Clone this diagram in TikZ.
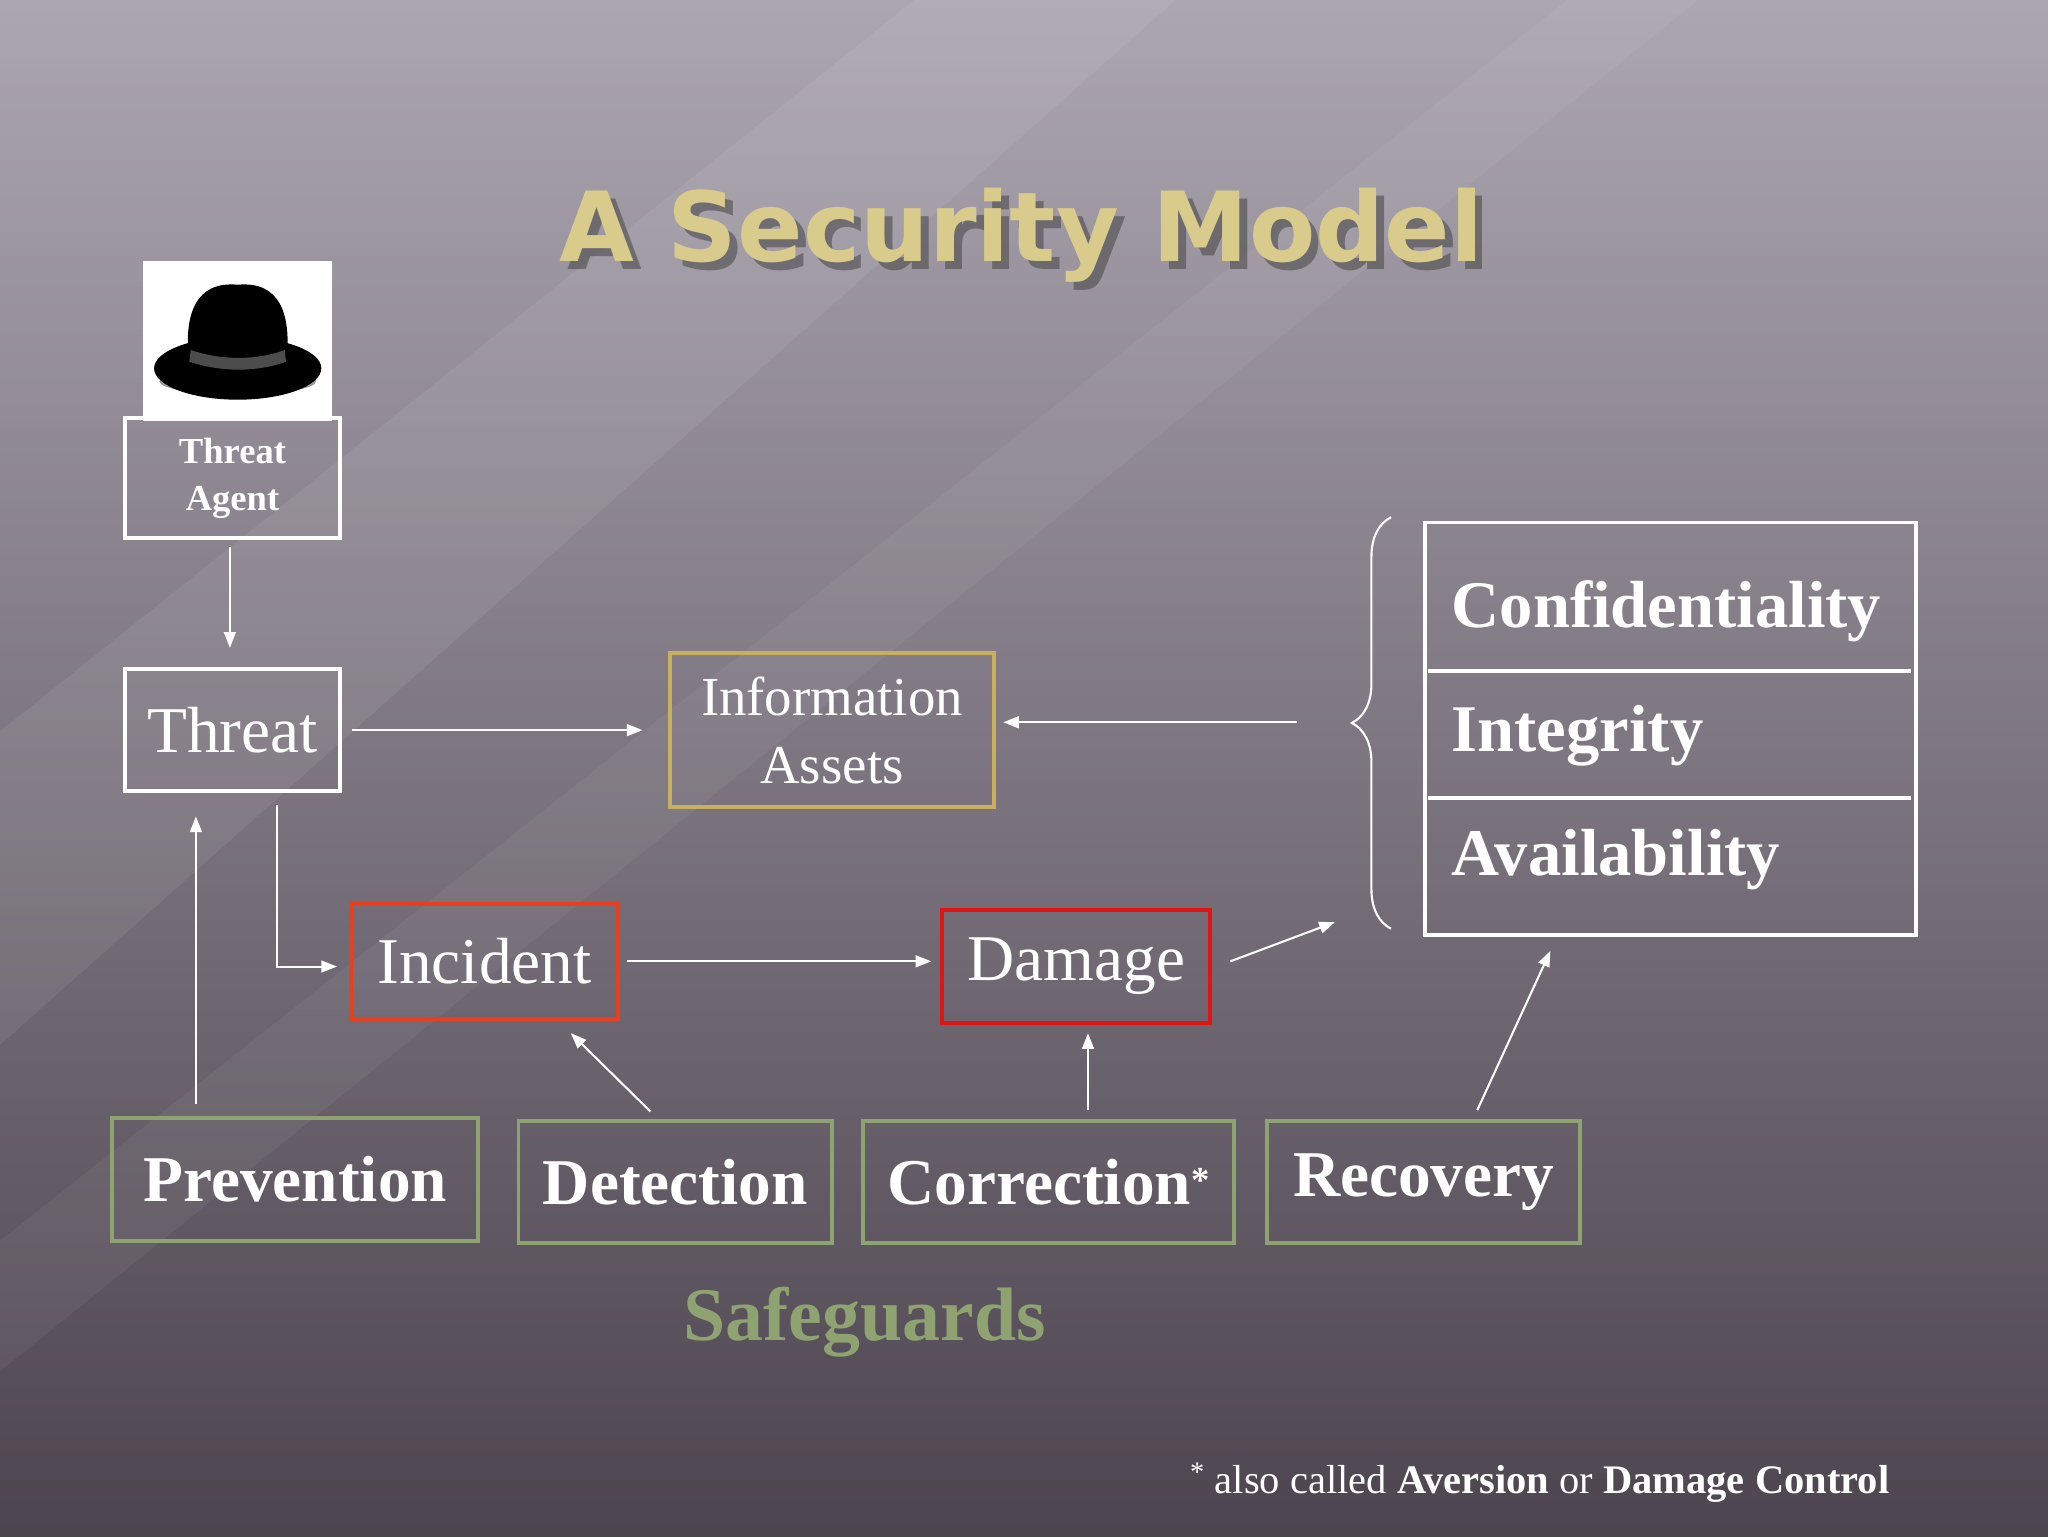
\documentclass[tikz,border=0pt]{standalone}
\usepackage{fontspec}
\setmainfont{Liberation Serif}
\newfontfamily\titlefont{DejaVu Sans}
\usetikzlibrary{arrows.meta,decorations.pathreplacing,shadows}
\definecolor{gold}{HTML}{C8B060}
\definecolor{titlec}{HTML}{D9CB8C}
\definecolor{grn}{HTML}{8FA272}
\definecolor{redA}{HTML}{E8401E}
\definecolor{redB}{HTML}{E01414}
\definecolor{bgL}{HTML}{9A93A0}
\definecolor{bgR}{HTML}{5E5460}
\begin{document}
\begin{tikzpicture}[x=1pt,y=-1pt,
 bx/.style={draw,line width=3pt,inner sep=0pt,text=white,align=center},
 arr/.style={draw=white,line width=1.6pt,-{Triangle[length=12pt,width=9pt]}},
 sg/.style={bx,draw=grn,font=\bfseries\fontsize{50}{54}\selectfont,minimum height=94pt}]
\useasboundingbox (0,0) rectangle (1568,1176);
\shade[left color=bgL, right color=bgR, shading angle=0] (0,0) rectangle (1568,1176);
\shade[top color=white, bottom color=black, opacity=0.18] (0,0) rectangle (1568,1176);
\fill[white,opacity=0.07] (0,560) -- (700,0) -- (900,0) -- (0,800) -- cycle;
\fill[white,opacity=0.05] (0,950) -- (1200,0) -- (1300,0) -- (0,1050) -- cycle;
% title
\node[opacity=0.6] (titleS) at (788,186) {\titlefont\bfseries\fontsize{74}{80}\selectfont\color{black!70}A Security Model};
\node (title) at (782,180) {\titlefont\bfseries\fontsize{74}{80}\selectfont\color{titlec}A Security Model};
% hat
\node[fill=white,minimum width=145pt,minimum height=122pt,inner sep=0] (hat) at (182,261) {};
\fill[black!40] (182,292) ellipse (60pt and 10pt);
\fill[black] (182,282) ellipse (64pt and 24pt);
\fill[black] (145,280) .. controls (140,240) and (150,215) .. (182,218) .. controls (214,215) and (224,240) .. (219,280) -- cycle;
\fill[black!70] (146,268) .. controls (170,276) and (196,276) .. (218,268) -- (219,277) .. controls (196,285) and (170,285) .. (145,277) -- cycle;
% boxes
\node[bx,draw=white,minimum width=164pt,minimum height=92pt,font=\bfseries\fontsize{28}{36}\selectfont] (agent) at (178,366) {Threat\\Agent};
\node[bx,draw=white,minimum width=164pt,minimum height=93pt,font=\fontsize{50}{56}\selectfont] (threat) at (178,559) {Threat};
\node[bx,draw=gold,minimum width=248pt,minimum height=118pt,font=\fontsize{42}{52}\selectfont] (info) at (637,559) {Information\\Assets};
\node[bx,draw=redA,minimum width=205pt,minimum height=88pt,font=\fontsize{50}{56}\selectfont] (incident) at (371,736) {Incident};
\node[bx,draw=redB,minimum width=205pt,minimum height=87pt,font=\fontsize{50}{56}\selectfont] (damage) at (824,740) {Damage};
% CIA
\node[bx,draw=white,minimum width=376pt,minimum height=316pt] (cia) at (1279,558) {};
\draw[white,line width=3pt] (1093,514) -- (1463,514) (1093,611) -- (1463,611);
\node[text=white,anchor=west,font=\bfseries\fontsize{51}{56}\selectfont] (conf) at (1108,468) {Confidentiality};
\node[text=white,anchor=west,font=\bfseries\fontsize{51}{56}\selectfont] (integ) at (1108,563) {Integrity};
\node[text=white,anchor=west,font=\bfseries\fontsize{51}{56}\selectfont] (avail) at (1108,658) {Availability};
\draw[white,line width=1.6pt,decorate,decoration={brace,amplitude=30pt,mirror,aspect=0.5}] (1065,396) -- (1065,711);
\coordinate (braceTip) at (993,553);
% safeguards
\node[sg,minimum width=280pt] (prev) at (226,903) {Prevention};
\node[sg,minimum width=240pt] (det) at (517,905) {Detection};
\node[sg,minimum width=284pt] (corr) at (803,905) {Correction\textsuperscript{\fontsize{28}{30}\selectfont *}};
\node[sg,minimum width=240pt] (rec) at (1090,905) {Recovery};
\node[text=grn,font=\bfseries\fontsize{58}{60}\selectfont] (safe) at (662,1012) {Safeguards};
\node[text=white,anchor=east,font=\fontsize{31}{34}\selectfont] (foot) at (1450,1135) {\textsuperscript{*} also called \textbf{Aversion} or \textbf{Damage Control}};
% arrows
\draw[arr] (agent.south) ++(-2,5) coordinate (a1) -- (176,496) coordinate (a2);
\draw[arr] (threat.east) ++(8,0) -- (492,559) coordinate (a3);
\draw[arr] (braceTip) -- (768,553) coordinate (a4);
\draw[arr] (212,616) coordinate (a5) |- (258,740) coordinate (a6);
\draw[arr] (480,736) coordinate (a7) -- (713,736) coordinate (a8);
\draw[arr] (942,736) coordinate (a9) -- (1022,706) coordinate (a10);
\draw[arr] (150,845) coordinate (b1) -- (150,625) coordinate (b2);
\draw[arr] (498,851) coordinate (b3) -- (437,791) coordinate (b4);
\draw[arr] (833,850) coordinate (b5) -- (833,791) coordinate (b6);
\draw[arr] (1131,850) coordinate (b7) -- (1187,728) coordinate (b8);
\end{tikzpicture}
\end{document}
